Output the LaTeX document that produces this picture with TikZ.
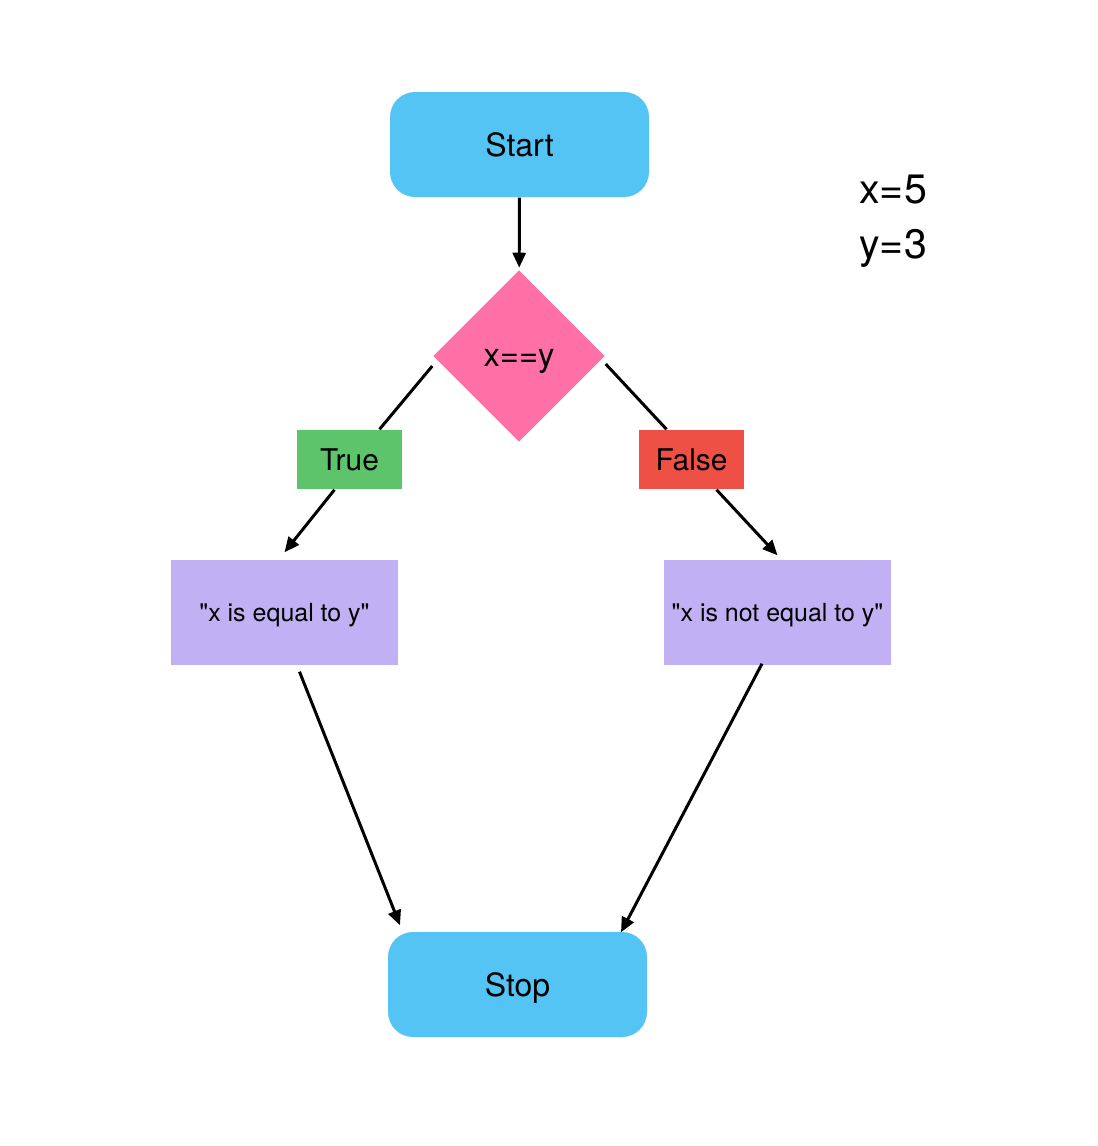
\documentclass[tikz,border=0pt]{standalone}
\usepackage{fontspec}
\setmainfont{TeX Gyre Heros}
\usetikzlibrary{shapes.geometric,arrows.meta}

\definecolor{startblue}{HTML}{54C4F4}
\definecolor{decpink}{HTML}{FF70A6}
\definecolor{truegreen}{HTML}{5EC46C}
\definecolor{falsered}{HTML}{EE5045}
\definecolor{procpurple}{HTML}{C2B0F4}

\tikzstyle{startstop} = [rectangle, rounded corners=0.25cm, minimum width=2.59cm, minimum height=1.05cm, text height=7.1pt, text depth=0pt, text centered, fill=startblue, font=\fontsize{9.1pt}{11pt}\selectfont]
\tikzstyle{decision} = [diamond, aspect=1, inner sep=0pt, minimum size=1.72cm, text height=6.2pt, text depth=0pt, text centered, fill=decpink, font=\fontsize{9.3pt}{11pt}\selectfont]
\tikzstyle{truebox} = [rectangle, minimum width=1.05cm, minimum height=0.59cm, inner sep=0pt, fill=truegreen, font=\fontsize{8.5pt}{10pt}\selectfont]
\tikzstyle{falsebox} = [rectangle, minimum width=1.05cm, minimum height=0.59cm, inner sep=0pt, fill=falsered, font=\fontsize{8.5pt}{10pt}\selectfont]
\tikzstyle{process} = [rectangle, minimum width=2.27cm, minimum height=1.05cm, inner sep=0pt, text height=5.4pt, text depth=0pt, text centered, fill=procpurple, font=\fontsize{7.1pt}{9pt}\selectfont]
\tikzstyle{arrow} = [line width=0.85pt, -{Triangle[length=0.15cm,width=0.13cm]}]
\tikzstyle{line} = [line width=0.85pt]

\begin{document}
\begin{tikzpicture}

	\useasboundingbox (0,0) rectangle (10.98,-11.46);

	\node (start) [startstop] at (5.195,-1.445) {Start};
	\node (dec) [decision] at (5.19,-3.56) {x==y};
	\node (true) [truebox] at (3.495,-4.595) {True};
	\node (false) [falsebox] at (6.915,-4.595) {False};
	\node (eq) [process] at (2.845,-6.125) {\textquotedbl x is equal to y\textquotedbl};
	\node (neq) [process] at (7.775,-6.125) {\textquotedbl x is not equal to y\textquotedbl};
	\node (stop) [startstop] at (5.175,-9.845) {Stop};

	\node (vars) [anchor=west, align=left, font=\fontsize{11.7pt}{15.6pt}\selectfont] at (8.47,-2.21) {x=5\\y=3};

	\draw [arrow, shorten >=0.5pt] (start) -- (dec);
	\draw [line] ([yshift=-0.1cm]dec.west) -- ([xshift=0.3cm]true.north);
	\draw [arrow] ([xshift=-0.15cm]true.south) -- ([yshift=0.07cm]eq.north);
	\draw [line] ([yshift=-0.08cm]dec.east) -- ([xshift=-0.25cm]false.north);
	\draw [arrow] ([xshift=0.25cm]false.south) -- ([yshift=0.04cm]neq.north);
	\draw [arrow] ([xshift=0.15cm,yshift=-0.06cm]eq.south) -- ([xshift=-1.175cm,yshift=0.06cm]stop.north);
	\draw [arrow] ([xshift=-0.155cm,yshift=0.02cm]neq.south) -- ([xshift=1.035cm,yshift=-0.01cm]stop.north);

\end{tikzpicture}
\end{document}
